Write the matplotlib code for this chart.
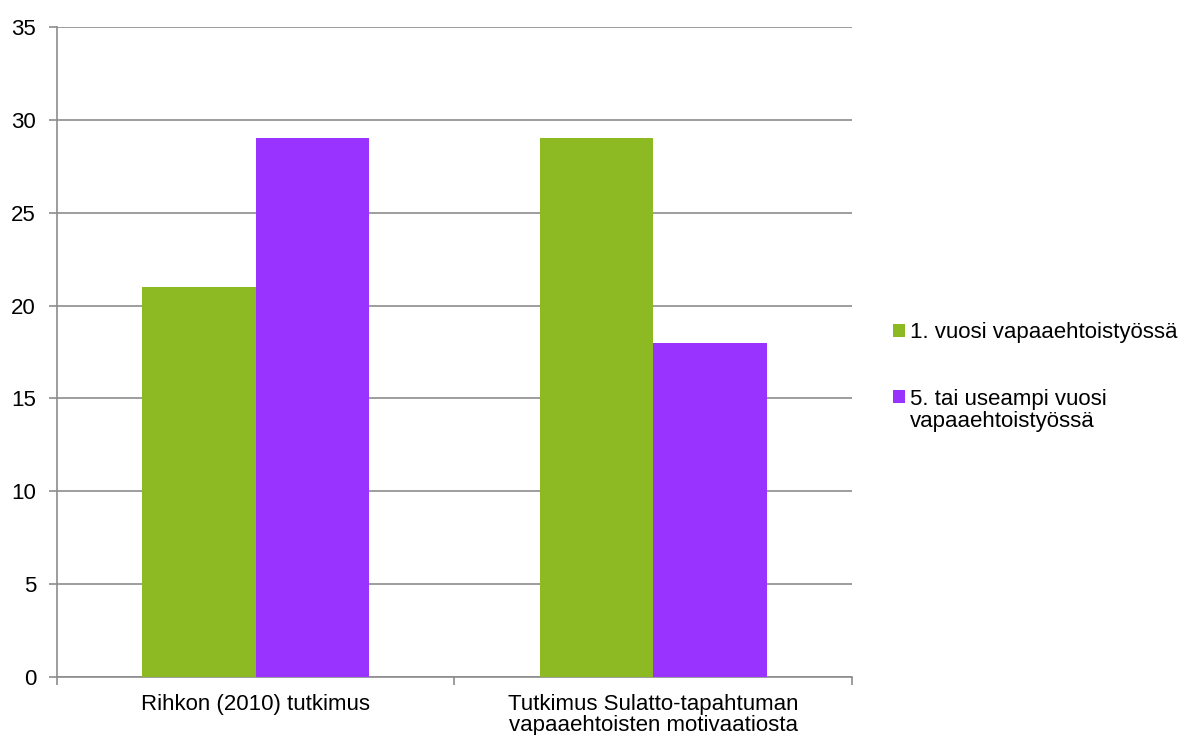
import numpy as np
import matplotlib.pyplot as plt
from matplotlib.transforms import IdentityTransform

plt.rcParams['font.family'] = ['Liberation Sans', 'DejaVu Sans']

# data
categories = ["Rihkon (2010) tutkimus",
              "Tutkimus Sulatto-tapahtuman\nvapaaehtoisten motivaatiosta"]
series_names = ["1. vuosi vapaaehtoistyössä",
                "5. tai useampi vuosi\nvapaaehtoistyössä"]
first_year = [21, 29]
fifth_year = [29, 18]
colors = ["#8DB922", "#9933FF"]

fig = plt.figure(figsize=(11.79, 7.35), dpi=100)
ax = fig.add_axes([0.0483, 0.0789, 0.6743, 0.8844])

x = np.arange(len(categories))
w = 0.2855
b1 = ax.bar(x - w / 2, first_year, w, color=colors[0], zorder=3)
b2 = ax.bar(x + w / 2, fifth_year, w, color=colors[1], zorder=3)

ax.set_xlim(-0.5, len(categories) - 0.5)
ax.set_ylim(0, 35)
ax.set_yticks(range(0, 36, 5))
ax.yaxis.grid(True, color="#8c8c8c", linewidth=1.2, zorder=0)

# category labels centred, ticks at category boundaries
ax.set_xticks(x)
ax.set_xticklabels(categories, fontsize=16, linespacing=1.0)
ax.tick_params(axis='x', which='major', length=0, pad=12)
ax.set_xticks(np.arange(-0.5, len(categories)), minor=True)
ax.tick_params(axis='x', which='minor', length=6, width=1.2, color="#8c8c8c")
ax.tick_params(axis='y', length=6, width=1.2, color="#8c8c8c", labelsize=16, pad=9)

for s in ['top', 'right']:
    ax.spines[s].set_visible(False)
for s in ['left', 'bottom']:
    ax.spines[s].set_color("#8c8c8c")
    ax.spines[s].set_linewidth(1.2)

# legend: marker sits next to the first line of each name
first_lines = [n.split("\n")[0] for n in series_names]
leg = fig.legend(handles=[b1, b2], labels=first_lines, loc='upper left',
                 bbox_to_anchor=(0.750, 0.574), frameon=False, fontsize=16,
                 handlelength=0.54, handleheight=0.54, handletextpad=0.23,
                 labelspacing=2.05, borderaxespad=0)

fig.canvas.draw()
for t, name in zip(leg.get_texts(), series_names):
    rest = name.split("\n")[1:]
    bb = t.get_window_extent()
    for i, line in enumerate(rest):
        fig.text(bb.x0, bb.y0 - 22 * (i + 1), line, fontsize=16, va='bottom',
                 ha='left', transform=IdentityTransform())

fig.savefig("out.png", dpi=100)
